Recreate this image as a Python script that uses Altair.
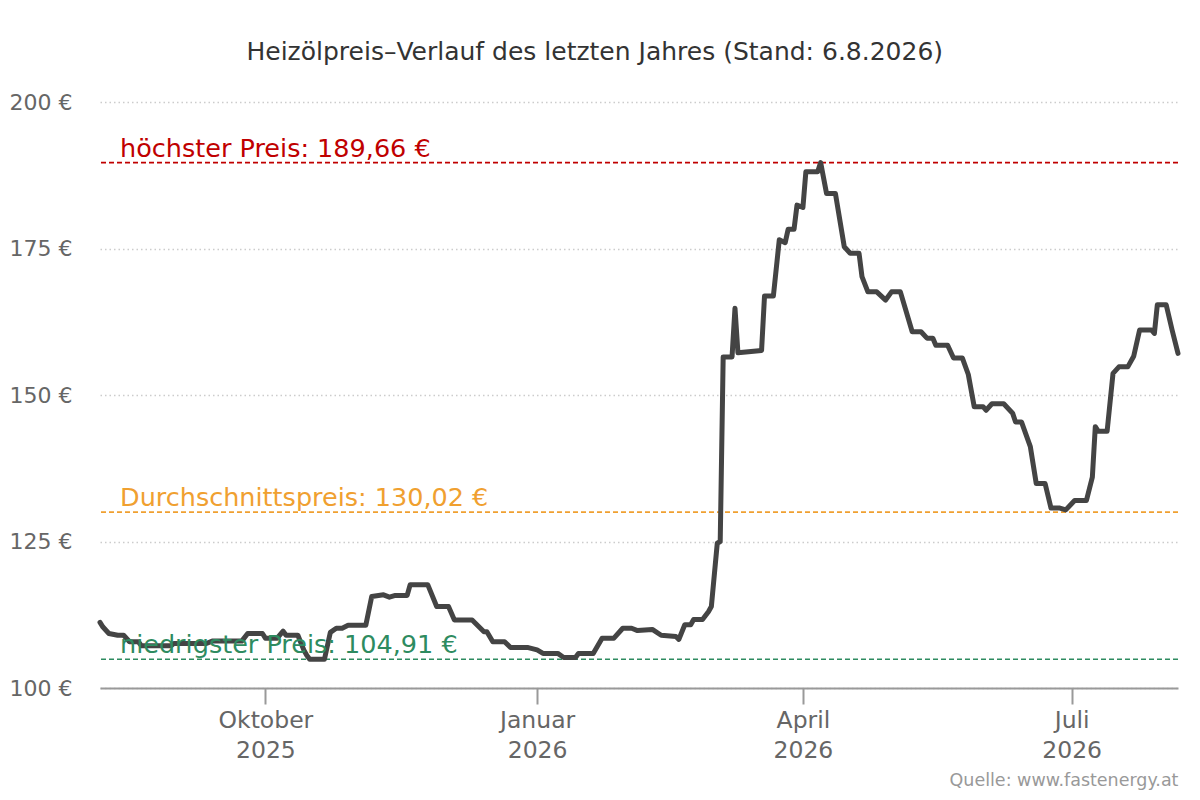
import altair as alt
import pandas as pd

dates = [
    "2025-08-06", "2025-08-07", "2025-08-09", "2025-08-12", "2025-08-14", "2025-08-16",
    "2025-08-19", "2025-08-20", "2025-08-30", "2025-08-31", "2025-09-11", "2025-09-13",
    "2025-09-23", "2025-09-25", "2025-09-30", "2025-10-01", "2025-10-05", "2025-10-07",
    "2025-10-08", "2025-10-12", "2025-10-14", "2025-10-15", "2025-10-16", "2025-10-21",
    "2025-10-23", "2025-10-25", "2025-10-27", "2025-10-29", "2025-11-04", "2025-11-06",
    "2025-11-10", "2025-11-12", "2025-11-14", "2025-11-18", "2025-11-19", "2025-11-25",
    "2025-11-28", "2025-12-02", "2025-12-04", "2025-12-10", "2025-12-14", "2025-12-15",
    "2025-12-17", "2025-12-21", "2025-12-23", "2025-12-29", "2026-01-01", "2026-01-03",
    "2026-01-08", "2026-01-10", "2026-01-14", "2026-01-15", "2026-01-20", "2026-01-23",
    "2026-01-27", "2026-01-30", "2026-02-02", "2026-02-04", "2026-02-09", "2026-02-12",
    "2026-02-17", "2026-02-18", "2026-02-20", "2026-02-22", "2026-02-23", "2026-02-26",
    "2026-02-28", "2026-03-01", "2026-03-03", "2026-03-04", "2026-03-05", "2026-03-08",
    "2026-03-09", "2026-03-10", "2026-03-18", "2026-03-19", "2026-03-22", "2026-03-24",
    "2026-03-26", "2026-03-27", "2026-03-29", "2026-03-30", "2026-04-01", "2026-04-02",
    "2026-04-06", "2026-04-07", "2026-04-09", "2026-04-12", "2026-04-15", "2026-04-17",
    "2026-04-20", "2026-04-21", "2026-04-23", "2026-04-26", "2026-04-29", "2026-05-01",
    "2026-05-04", "2026-05-08", "2026-05-11", "2026-05-13", "2026-05-15", "2026-05-16",
    "2026-05-20", "2026-05-22", "2026-05-25", "2026-05-27", "2026-05-29", "2026-06-01",
    "2026-06-02", "2026-06-04", "2026-06-08", "2026-06-11", "2026-06-12", "2026-06-14",
    "2026-06-17", "2026-06-19", "2026-06-22", "2026-06-24", "2026-06-27", "2026-06-29",
    "2026-07-02", "2026-07-06", "2026-07-08", "2026-07-09", "2026-07-10", "2026-07-13",
    "2026-07-15", "2026-07-17", "2026-07-20", "2026-07-22", "2026-07-24", "2026-07-28",
    "2026-07-29", "2026-07-30", "2026-08-02", "2026-08-04", "2026-08-06",
]

prices = [
    111.2, 110.4, 109.3, 109.0, 109.0, 107.9,
    107.9, 107.2, 107.2, 107.6, 107.6, 108.0,
    108.0, 109.3, 109.3, 108.5, 108.5, 109.7,
    109.0, 109.0, 106.5, 105.6, 104.91, 104.91,
    109.5, 110.2, 110.2, 110.7, 110.7, 115.6,
    115.9, 115.5, 115.8, 115.8, 117.6, 117.6,
    113.9, 113.9, 111.6, 111.6, 109.6, 109.6,
    107.9, 107.9, 106.9, 106.9, 106.5, 105.9,
    105.9, 105.2, 105.2, 105.9, 105.9, 108.5,
    108.5, 110.2, 110.2, 109.8, 110.0, 109.0,
    108.8, 108.3, 110.8, 110.8, 111.7, 111.7,
    113.0, 113.9, 124.7, 125.0, 156.5, 156.5,
    164.8, 157.2, 157.6, 166.9, 166.9, 176.5,
    176.0, 178.3, 178.3, 182.4, 182.0, 188.1,
    188.1, 189.66, 184.4, 184.4, 175.3, 174.2,
    174.2, 170.2, 167.6, 167.6, 166.2, 167.6,
    167.6, 160.8, 160.8, 159.7, 159.7, 158.5,
    158.5, 156.3, 156.3, 153.5, 148.0, 148.0,
    147.4, 148.5, 148.5, 146.9, 145.4, 145.4,
    141.2, 134.9, 134.9, 130.7, 130.7, 130.4,
    132.0, 132.0, 136.0, 144.6, 143.8, 143.8,
    153.7, 154.8, 154.8, 156.6, 161.1, 161.1,
    160.5, 165.4, 165.4, 161.1, 157.1,
]

ref_values = [189.66, 130.02, 104.91]
ref_labels = ["höchster Preis: 189,66 €", "Durchschnittspreis: 130,02 €", "niedrigster Preis: 104,91 €"]
ref_colors = ["#C00000", "#F0A030", "#2E8B60"]

y_ticks = [100, 125, 150, 175, 200]
month_names = ["Januar", "Februar", "März", "April", "Mai", "Juni", "Juli",
               "August", "September", "Oktober", "November", "Dezember"]

df = pd.DataFrame({"date": dates, "price": prices})
refs = pd.DataFrame({"value": ref_values, "label": ref_labels, "color": ref_colors})

FONT = "DejaVu Sans"

x_scale = alt.Scale(
    type="utc",
    domain=[alt.DateTime(year=2025, month=8, date=6, utc=True),
            alt.DateTime(year=2026, month=8, date=6, utc=True)],
)
y_scale = alt.Scale(domain=[100, 200], nice=False, zero=False)

month_js = "[" + ",".join("'" + m + "'" for m in month_names) + "]"

x_axis = alt.Axis(
    values=[alt.DateTime(year=2025, month=10, date=1, utc=True),
            alt.DateTime(year=2026, month=1, date=1, utc=True),
            alt.DateTime(year=2026, month=4, date=1, utc=True),
            alt.DateTime(year=2026, month=7, date=1, utc=True)],
    labelExpr="[" + month_js + "[utcmonth(datum.value)], utcFormat(datum.value, '%Y')]",
    grid=False,
    domainColor="#999999",
    domainWidth=2,
    tickColor="#999999",
    tickWidth=2,
    tickSize=16,
    labelFontSize=23.5,
    labelColor="#666666",
    labelFont=FONT,
    labelLineHeight=30,
    labelPadding=4,
    labelBaseline="top",
    title="Quelle: www.fastenergy.at",
    titleAnchor="end",
    titleAlign="right",
    titleFontSize=17.5,
    titleFontWeight="normal",
    titleColor="#999999",
    titleFont=FONT,
    titlePadding=10,
)

y_axis = alt.Axis(
    values=y_ticks,
    labelExpr="datum.value + ' €'",
    domain=False,
    ticks=False,
    grid=True,
    gridColor="#cccccc",
    gridDash=[1.5, 3],
    gridWidth=1.5,
    labelFontSize=22,
    labelColor="#666666",
    labelFont=FONT,
    labelPadding=28,
    title=None,
)

line = alt.Chart(df).mark_line(
    color="#444444", strokeWidth=5, strokeJoin="round", strokeCap="round"
).encode(
    x=alt.X("date:T", scale=x_scale, axis=x_axis),
    y=alt.Y("price:Q", scale=y_scale, axis=y_axis),
)

rules = alt.Chart(refs).mark_rule(strokeDash=[5, 3], strokeWidth=1.6).encode(
    y=alt.Y("value:Q", scale=y_scale),
    color=alt.Color("color:N", scale=None),
)

labels = alt.Chart(refs).mark_text(
    align="left", baseline="alphabetic", dy=-6, fontSize=25.5, font=FONT
).encode(
    x=alt.value(20),
    y=alt.Y("value:Q", scale=y_scale),
    text="label:N",
    color=alt.Color("color:N", scale=None),
)

chart = alt.layer(rules, line, labels).properties(
    width=1078,
    height=586,
    autosize=alt.AutoSizeParams(type="none"),
    padding={"left": 92, "top": 94, "right": 10, "bottom": 102},
    title=alt.TitleParams(
        "Heizölpreis–Verlauf des letzten Jahres (Stand: 6.8.2026)",
        fontSize=25,
        fontWeight="normal",
        color="#333333",
        font=FONT,
        anchor="middle",
        frame="bounds",
        offset=26,
    ),
).configure(font=FONT).configure_view(strokeWidth=0, stroke="transparent")

chart.save("out.html", embed_options={"renderer": "svg", "actions": False})
